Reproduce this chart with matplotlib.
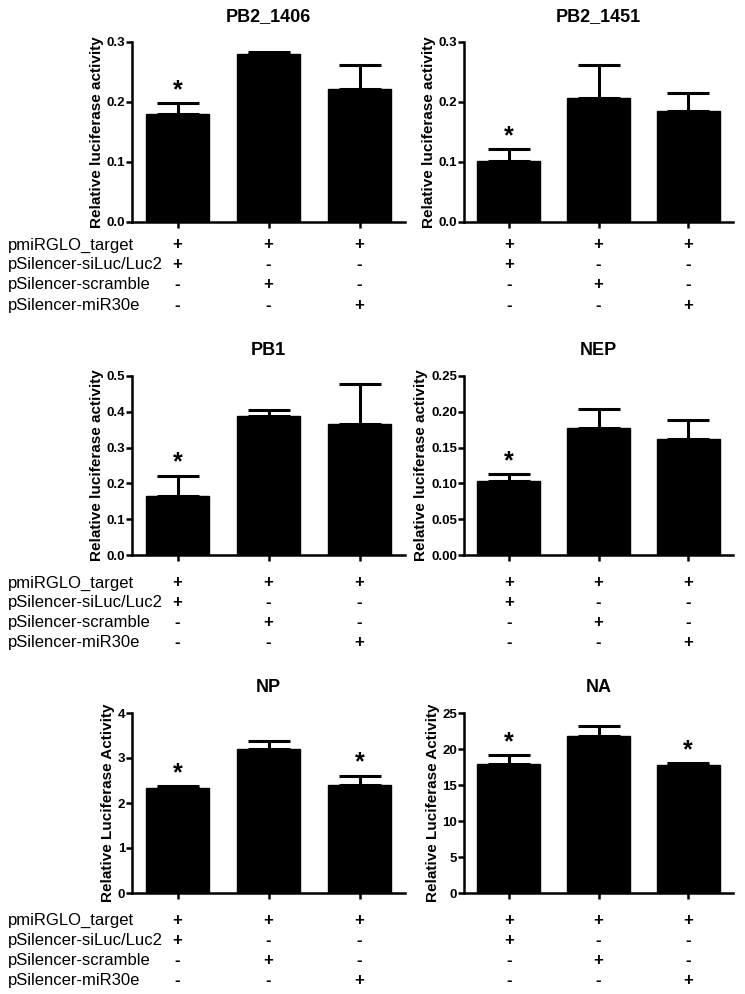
import matplotlib
matplotlib.use("Agg")
import matplotlib.pyplot as plt
import matplotlib.transforms as mtransforms

plt.rcParams['font.family'] = ['Liberation Sans', 'DejaVu Sans']

titles = ["PB2_1406", "PB2_1451", "PB1", "NEP", "NP", "NA"]
ylabels = ["Relative luciferase activity"] * 4 + ["Relative Luciferase Activity"] * 2

means = [
    [0.180, 0.280, 0.222],
    [0.101, 0.207, 0.185],
    [0.164, 0.388, 0.367],
    [0.103, 0.178, 0.162],
    [2.33, 3.21, 2.40],
    [17.9, 21.8, 17.75],
]
errors = [
    [0.018, 0.004, 0.040],
    [0.021, 0.054, 0.030],
    [0.058, 0.017, 0.110],
    [0.010, 0.026, 0.026],
    [0.05, 0.16, 0.21],
    [1.30, 1.35, 0.30],
]
significant = [
    [True, False, False],
    [True, False, False],
    [True, False, False],
    [True, False, False],
    [True, False, True],
    [True, False, True],
]
yticks = [
    [0.0, 0.1, 0.2, 0.3],
    [0.0, 0.1, 0.2, 0.3],
    [0.0, 0.1, 0.2, 0.3, 0.4, 0.5],
    [0.00, 0.05, 0.10, 0.15, 0.20, 0.25],
    [0, 1, 2, 3, 4],
    [0, 5, 10, 15, 20, 25],
]
ytick_fmt = ["{:.1f}", "{:.1f}", "{:.1f}", "{:.2f}", "{:d}", "{:d}"]

row_names = ["pmiRGLO_target", "pSilencer-siLuc/Luc2", "pSilencer-scramble", "pSilencer-miR30e"]
row_signs = [
    ["+", "+", "+"],
    ["+", "-", "-"],
    ["-", "+", "-"],
    ["-", "-", "+"],
]

W, H = 745, 994
fig = plt.figure(figsize=(W / 100, H / 100), dpi=100)

# axes pixel boxes (left, right, top, bottom)
cols = [(132, 405), (464, 733)]
rows = [(42, 222), (376, 555), (713, 893)]
row_text_offsets = [[23, 43, 63, 83], [28, 48, 68, 88], [27, 47, 67, 87]]

x = [0, 1, 2]
for i in range(6):
    r, c = divmod(i, 2)
    l, rr = cols[c]
    t, b = rows[r]
    ax = fig.add_axes([l / W, 1 - b / H, (rr - l) / W, (b - t) / H])
    ax.bar(x, means[i], width=0.7, color='black', edgecolor='black', zorder=2)
    ax.errorbar(x, means[i], yerr=[[0, 0, 0], errors[i]], fmt='none',
                ecolor='black', elinewidth=2.2, capsize=15, capthick=2.2, zorder=1)
    ymax = yticks[i][-1]
    ax.set_ylim(0, ymax)
    ax.set_xlim(-0.5, 2.5)
    ax.set_yticks(yticks[i])
    ax.set_yticklabels([ytick_fmt[i].format(v) for v in yticks[i]],
                       fontsize=9.5, fontweight='bold')
    ax.set_xticks(x)
    ax.set_xticklabels([])
    ax.tick_params(axis='both', width=1.8, length=4, direction='out', pad=1)
    for s in ['top', 'right']:
        ax.spines[s].set_visible(False)
    for s in ['left', 'bottom']:
        ax.spines[s].set_linewidth(1.8)
    ax.set_ylabel(ylabels[i], fontsize=11, fontweight='bold', labelpad=2)
    ax.set_title(titles[i], fontsize=13, fontweight='bold', pad=15)
    for j in range(3):
        if significant[i][j]:
            ax.text(x[j], means[i][j] + errors[i][j] + ymax * 0.005, "*",
                    ha='center', va='bottom', fontsize=18, fontweight='bold')
    trans = mtransforms.blended_transform_factory(ax.transData, fig.transFigure)
    for k in range(4):
        yfig = 1 - (b + row_text_offsets[r][k]) / H
        for j in range(3):
            ax.text(x[j], yfig, row_signs[k][j], transform=trans, ha='center',
                    va='center', fontsize=12, fontweight='bold', clip_on=False)
        if c == 0:
            fig.text(8 / W, yfig, row_names[k], ha='left', va='center', fontsize=12)

fig.savefig("out.png", dpi=100, facecolor='white')
